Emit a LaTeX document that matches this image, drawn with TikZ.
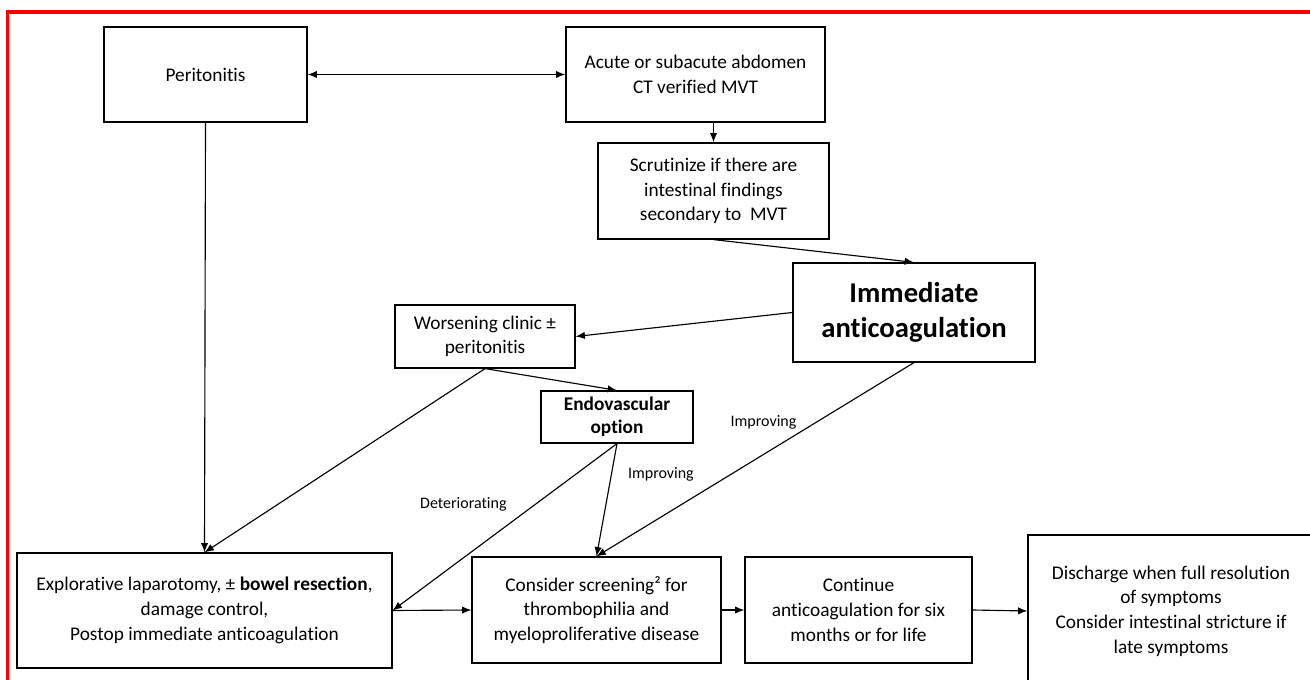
\documentclass[tikz,border=0pt]{standalone}
\usepackage{fontspec}
\setmainfont{Carlito}[Ligatures=NoCommon]
\usetikzlibrary{arrows.meta,positioning}

\begin{document}
\begin{tikzpicture}[x=0.75pt, y=-0.75pt, >={Latex[length=7pt,width=5.5pt]}]

\tikzset{
  box/.style={
    rectangle, draw, line width=0.9pt, align=center,
    inner sep=2pt, font=\fontsize{14.5}{18.5}\selectfont
  },
  arrow/.style={->, line width=0.85pt},
  biarrow/.style={<->, line width=0.85pt},
  lbl/.style={font=\fontsize{12}{14}\selectfont, inner sep=1pt}
}

\useasboundingbox (0,0) rectangle (1310,680);
\clip (0,0) rectangle (1310,680);

% ==========================
% Marco rojo
% ==========================
\draw[red, line width=2.6pt] (7.5,720) -- (7.5,12) -- (1340,12);

% ==========================
% Fila superior
% ==========================
\node[box, minimum width=152.25pt, minimum height=71.25pt] (peri) at (205.5,74.5) {Peritonitis};
\node[box, minimum width=194.25pt, minimum height=71.25pt] (acute) at (695.5,74.5) {Acute or subacute abdomen\\CT verified MVT};
\node[box, minimum width=173.25pt, minimum height=72pt] (scrut) at (713.5,191) {Scrutinize if there are\\intestinal findings\\secondary to\ \ MVT};

\draw[biarrow] (peri.east) -- (acute.west);
\draw[arrow] (acute.south -| scrut.north) -- (scrut.north);

% ==========================
% Anticoagulacion y ramas
% ==========================
\node[box, minimum width=181.5pt, minimum height=74.25pt,
      font=\bfseries\fontsize{21.5}{26}\selectfont] (immed) at (914,312.5) {Immediate\\anticoagulation};
\node[box, minimum width=135pt, minimum height=47.25pt] (worse) at (485,336.5) {Worsening clinic ±\\peritonitis};
\node[box, minimum width=114pt, minimum height=39pt,
      font=\bfseries\fontsize{14.5}{17.5}\selectfont] (endo) at (617,417) {Endovascular\\option};

\draw[arrow] (scrut.south) -- (immed.north);
\draw[arrow] (immed.west) -- (worse.east);
\draw[arrow] (worse.south) -- (endo.north);

% ==========================
% Fila inferior
% ==========================
\node[box, minimum width=281.25pt, minimum height=86.25pt] (explo) at (204.5,610.5)
  {Explorative laparotomy, ± \textbf{bowel resection},\\damage control,\\Postop immediate anticoagulation};
\node[box, minimum width=186.75pt, minimum height=79.5pt] (screen) at (596.5,610)
  {Consider screening² for\\thrombophilia and\\myeloproliferative disease};
\node[box, minimum width=170.25pt, minimum height=79.5pt] (cont) at (858.5,610)
  {Continue\\anticoagulation for six\\months or for life};
\node[box, minimum width=214.5pt, minimum height=114pt] (disch) at (1171,611)
  {Discharge when full resolution\\of symptoms\\Consider intestinal stricture if\\late symptoms};

\draw[arrow] (peri.south) -- (explo.north);
\draw[arrow] (worse.south) -- (explo.north);
\draw[arrow] (endo.south) -- node[lbl, pos=0.365, left=20pt] (det) {Deteriorating} (explo.east);
\draw[arrow] (endo.south) -- node[lbl, pos=0.27, right=11pt] (imp1) {Improving} (screen.north);
\draw[arrow] (immed.south) -- node[lbl, pos=0.31, left=13pt] (imp2) {Improving} (screen.north);

\draw[arrow] (explo.east) -- (screen.west);
\draw[arrow] (screen.east) -- (cont.west);
\draw[arrow] (cont.east) -- (disch.west);

\end{tikzpicture}
\end{document}
